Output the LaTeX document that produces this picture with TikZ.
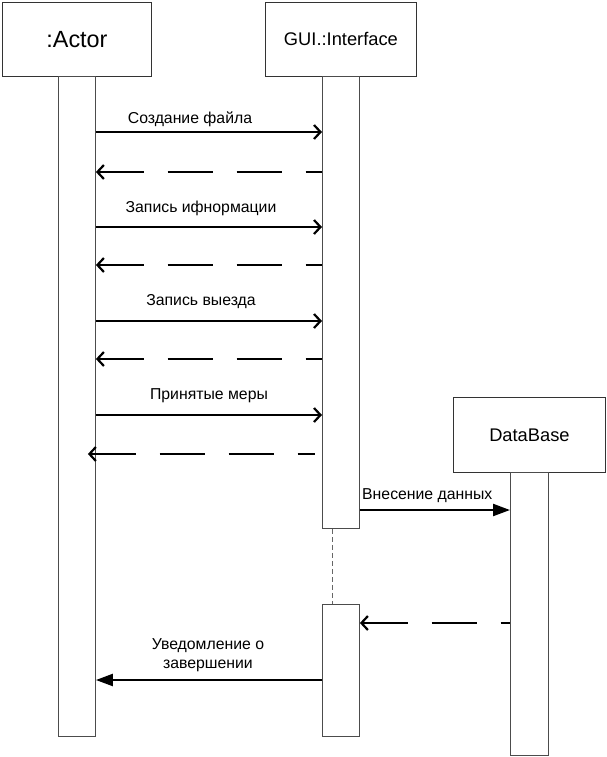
\documentclass[tikz,border=0pt]{standalone}
\usepackage{fontspec}
\setmainfont{Liberation Sans}
\usetikzlibrary{arrows.meta}
\begin{document}
\begin{tikzpicture}[x=1pt,y=-1pt,
  obj/.style={draw=black!80, line width=0.9pt, fill=white, inner sep=0pt,
    anchor=north west, font=\fontsize{18.3}{22}\selectfont},
  bar/.style={draw=black!70, line width=0.9pt, fill=white, inner sep=0pt,
    anchor=north west},
  call/.style={line width=2.2pt, -{Straight Barb[length=6.5pt,width=14pt,line width=2.2pt]}},
  ret/.style={line width=2.2pt, dash pattern=on 45pt off 24pt,
    {Straight Barb[length=6.5pt,width=14pt,line width=2.2pt]}-},
  sync/.style={line width=2.2pt, -{Triangle[length=17pt,width=12pt]}},
  lbl/.style={font=\fontsize{15.8}{19}\selectfont, inner sep=0pt, align=center},
  life/.style={draw=black!60, line width=0.9pt, dash pattern=on 5pt off 3pt}]
\useasboundingbox (0,0) rectangle (606,757);

% participants
\node[obj, minimum width=149pt, minimum height=74pt, font=\fontsize{23.4}{27}\selectfont] (actor) at (2,2) {:Actor};
\node[obj, minimum width=151pt, minimum height=74pt] (gui) at (265,2) {GUI.:Interface};
\node[obj, minimum width=152pt, minimum height=75pt] (db) at (453,397) {DataBase};

% activation bars
\node[bar, minimum width=37pt, minimum height=660pt] (abar) at (58,76) {};
\node[bar, minimum width=37pt, minimum height=452pt] (gbar1) at (322,76) {};
\node[bar, minimum width=37pt, minimum height=132pt] (gbar2) at (322,604) {};
\node[bar, minimum width=38pt, minimum height=283pt] (dbar) at (510,472) {};

% suspended lifeline of the interface
\draw[life] (gbar1.south west) ++(10,0) coordinate (l1) -- (l1 |- gbar2.north);

% messages between actor and interface
\draw[call] (abar.east |- 0,132) -- (gbar1.west |- 0,132);
\node[lbl] (m1) at (190,119) {Создание файла};
\draw[ret] (abar.east |- 0,172) -- (gbar1.west |- 0,172);

\draw[call] (abar.east |- 0,227) -- (gbar1.west |- 0,227);
\node[lbl] (m3) at (201,208) {Запись ифнормации};
\draw[ret] (abar.east |- 0,265) -- (gbar1.west |- 0,265);

\draw[call] (abar.east |- 0,321) -- (gbar1.west |- 0,321);
\node[lbl] (m5) at (201,302) {Запись выезда};
\draw[ret] (abar.east |- 0,359) -- (gbar1.west |- 0,359);

\draw[call] (abar.east |- 0,415) -- (gbar1.west |- 0,415);
\node[lbl] (m7) at (209,396) {Принятые меры};
\draw[ret] ([xshift=-8pt]abar.east |- 0,454) coordinate (r8) -- ([xshift=-7pt]gbar1.west |- 0,454);

% interface and database
\draw[sync] (gbar1.east |- 0,510) -- (dbar.west |- 0,510);
\node[lbl, anchor=west] (m9) at (362,496) {Внесение данных};
\draw[ret] (gbar2.east |- 0,623) -- (dbar.west |- 0,623);

% completion notice
\draw[sync] (gbar2.west |- 0,680) -- (abar.east |- 0,680);
\node[lbl] (m11) at (208,655) {Уведомление о\\завершении};
\end{tikzpicture}
\end{document}
